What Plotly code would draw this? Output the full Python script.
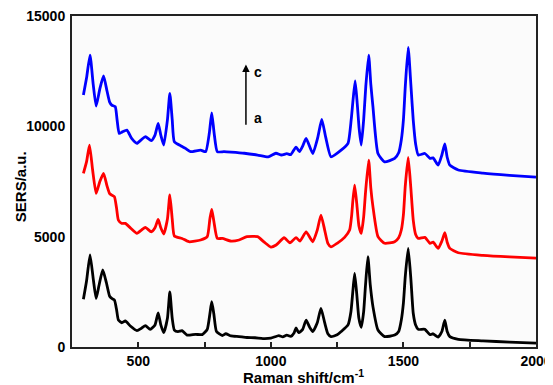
import plotly.graph_objects as go

# ---- data ----
black_shift = [293,305,318,330,341,352,366,380,392,400,410,418,425,438,451,470,495,512,527,545,563,575,585,596,610,619,628,636,650,665,684,716,741,760,770,777,785,795,817,830,850,880,910,940,970,1000,1030,1045,1060,1075,1088,1095,1105,1120,1133,1146,1158,1175,1189,1203,1215,1227,1250,1265,1291,1302,1309,1316,1324,1332,1341,1350,1357,1366,1375,1385,1404,1429,1467,1482,1492,1500,1507,1518,1528,1537,1546,1556,1581,1600,1612,1631,1645,1656,1665,1675,1707,1800,1900,2000]
black_sers = [2160,3000,4170,3100,2200,2800,3490,2900,2300,2200,2130,1700,1220,1100,1180,950,740,850,970,800,1000,1550,1000,650,1300,2500,1300,770,700,740,540,575,560,800,1500,2050,1500,700,520,600,500,470,430,420,380,400,520,460,540,480,650,860,650,800,1220,900,700,1100,1750,1100,600,470,550,700,1000,1600,2500,3340,2400,1300,890,1600,2800,4090,2800,1830,770,470,540,700,1220,2000,3200,4470,3100,1530,1000,800,800,560,600,450,700,1220,700,470,350,280,220,180]

red_shift = [293,305,316,328,341,355,369,382,392,400,410,418,425,438,451,470,495,512,527,549,563,575,585,596,610,619,628,636,665,691,735,760,770,777,785,798,817,850,880,910,950,975,1000,1020,1050,1072,1095,1110,1133,1158,1175,1189,1203,1215,1227,1250,1278,1297,1305,1309,1316,1324,1332,1341,1350,1357,1369,1377,1385,1404,1429,1467,1482,1492,1500,1507,1518,1528,1537,1546,1556,1581,1600,1612,1631,1645,1656,1665,1675,1707,1800,1900,2000]
red_sers = [7870,8400,9150,8000,6960,7500,7870,7300,6950,6880,6810,6300,5750,5600,5600,5400,5150,5300,5420,5220,5400,5780,5400,5120,5800,6890,5800,5030,4920,4770,4850,5000,5800,6240,5700,4920,4920,4800,4850,5000,5000,4750,4530,4620,4950,4720,4960,4800,5220,4770,5300,5980,5300,4700,4540,4700,4970,5300,6000,6600,7340,6500,5500,5150,5900,7000,8470,7200,6360,5000,4700,4770,4950,5300,6000,7300,8590,7200,5750,5100,4920,4970,4700,4750,4470,4800,5180,4750,4470,4270,4150,4080,4030]

blue_shift = [293,305,318,330,341,355,369,382,392,400,413,420,428,440,457,475,495,512,527,549,563,575,585,596,610,619,628,636,663,678,697,735,754,768,777,786,798,823,850,900,950,990,1019,1040,1060,1075,1095,1108,1120,1133,1158,1177,1192,1207,1227,1265,1291,1303,1310,1318,1326,1333,1341,1350,1358,1369,1377,1385,1404,1429,1467,1482,1492,1500,1507,1518,1528,1537,1546,1556,1581,1600,1612,1631,1645,1656,1665,1675,1707,1800,1900,2000]
blue_sers = [11420,12200,13230,11900,10920,11700,12280,11600,11100,10960,10890,10300,9680,9750,9830,9450,9230,9400,9530,9350,9600,10130,9600,9150,10300,11490,10300,9300,9100,9000,8850,8920,8850,9700,10610,9700,8850,8850,8830,8780,8700,8620,8780,8700,8760,8720,9060,8850,9100,9450,8770,9500,10310,9500,8620,8920,9230,10300,11200,12060,11000,9900,9150,10300,11800,13230,11900,10890,8770,8390,8550,8800,9380,10300,11800,13580,11900,10280,9200,8700,8770,8550,8570,8240,8700,9200,8600,8240,8020,7880,7780,7700]

x_major = [500, 1000, 1500, 2000]
x_minor = [750, 1250, 1750]
y_major = [0, 5000, 10000, 15000]

FONT = "Liberation Sans"

fig = go.Figure()
for xs, ys, col in [(black_shift, black_sers, "#000000"),
                    (red_shift, red_sers, "#ff0000"),
                    (blue_shift, blue_sers, "#0000ff")]:
    fig.add_trace(go.Scatter(x=xs, y=ys, mode="lines",
                             line=dict(color=col, width=2.8, shape="spline", smoothing=0.5),
                             showlegend=False, hoverinfo="skip"))

# arrow a -> c
fig.add_annotation(x=906, y=12800, ax=906, ay=10000, xref="x", yref="y", axref="x", ayref="y",
                   text="", showarrow=True, arrowhead=2, arrowsize=1.0, arrowwidth=1.5,
                   arrowcolor="#000000")
fig.add_annotation(x=930, y=12450, text="<b>c</b>", showarrow=False, xanchor="left",
                   font=dict(family=FONT, size=14, color="#000"))
fig.add_annotation(x=930, y=10400, text="<b>a</b>", showarrow=False, xanchor="left",
                   font=dict(family=FONT, size=14, color="#000"))

# axis titles
fig.add_annotation(xref="paper", yref="paper", x=0.498, y=-0.0906, yanchor="middle",
                   text="<b>Raman shift/cm<sup>-1</sup></b>", showarrow=False,
                   font=dict(family=FONT, size=15, color="#000"))
fig.add_annotation(xref="paper", yref="paper", x=-0.112, y=0.483, xanchor="center", yanchor="middle",
                   textangle=-90, text="<b>SERS/a.u.</b>", showarrow=False,
                   font=dict(family=FONT, size=15, color="#000"))

# page body has an 8px margin, so the figure is offset by (8, 8)
fig.update_layout(
    width=545, height=377,
    margin=dict(l=64, r=17, t=8, b=38),
    paper_bgcolor="#ffffff", plot_bgcolor="#fbfbfb",
    font=dict(family=FONT, size=14, color="#000"),
)
fig.update_xaxes(range=[250, 2000], showgrid=False, zeroline=False,
                 showline=True, linecolor="#222", linewidth=2, mirror=True,
                 ticks="inside", ticklen=5, tickwidth=1.5, tickcolor="#222",
                 tickvals=x_major, ticktext=[f"<b>{t}</b>" for t in x_major],
                 minor=dict(tickvals=x_minor, ticks="inside", ticklen=5, tickwidth=1.5, tickcolor="#222"),
                 tickfont=dict(family=FONT, size=14), automargin=False,
                 ticklabeloverflow="allow")
fig.update_yaxes(range=[0, 15000], showgrid=False, zeroline=False,
                 showline=True, linecolor="#222", linewidth=2, mirror=True,
                 ticks="", tickvals=y_major, ticktext=[f"<b>{t}</b>" for t in y_major],
                 tickfont=dict(family=FONT, size=14), ticklabelstandoff=2,
                 automargin=False, ticklabeloverflow="allow")

fig.write_html("out.html")
